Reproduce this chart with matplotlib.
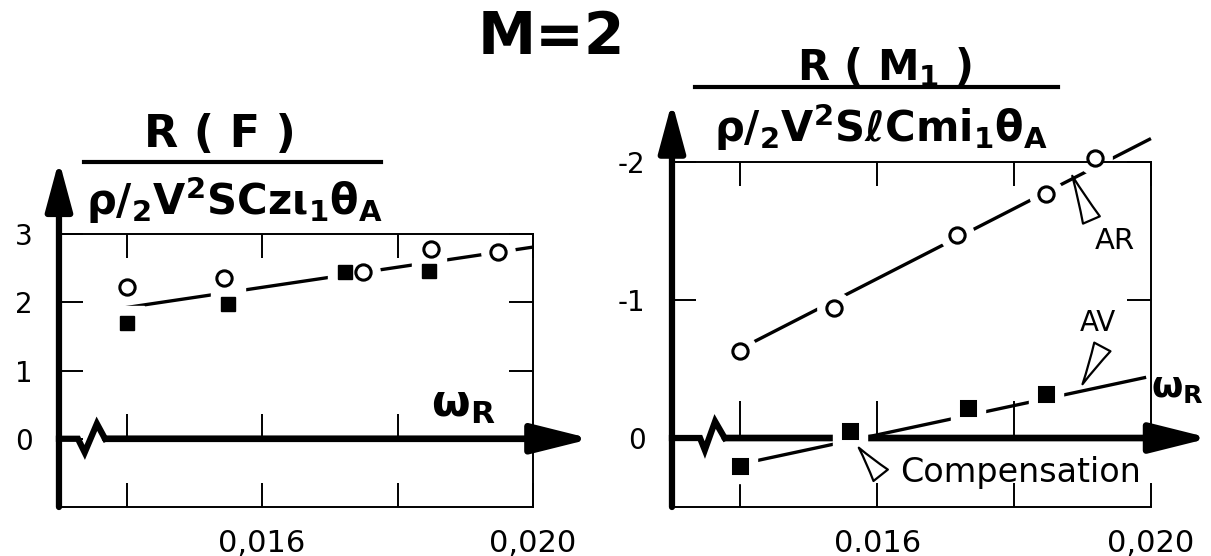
import numpy as np
import matplotlib.pyplot as plt

plt.rcParams['font.family'] = ['DejaVu Sans']
plt.rcParams['mathtext.default'] = 'regular'

# x axis: omega_R
x_ticks = [0.014, 0.016, 0.018, 0.020]

# left panel R(F): open circles (AR) and filled squares (AV)
f_circ_x = [0.0140, 0.01544, 0.01749, 0.01850, 0.01949]
f_circ_y = [2.22, 2.35, 2.44, 2.78, 2.74]
f_sq_x = [0.0140, 0.01550, 0.01723, 0.01847]
f_sq_y = [1.69, 1.97, 2.44, 2.46]
f_fit_x = [0.01384, 0.02001]
f_fit_y = [1.90, 2.81]
f_yticks = [0, 1, 2, 3]
f_xlabels = ['', '0,016', '', '0,020']

# right panel R(M1)
m_circ_x = [0.0140, 0.01537, 0.01717, 0.01847, 0.01918]
m_circ_y = [-0.63, -0.94, -1.47, -1.77, -2.03]
m_circ_fit_x = [0.01409, 0.0200]
m_circ_fit_y = [-0.67, -2.17]
m_sq_x = [0.0140, 0.0156, 0.01733, 0.01847]
m_sq_y = [0.20, -0.05, -0.22, -0.32]
m_sq_fit_x = [0.01418, 0.01993]
m_sq_fit_y = [0.17, -0.44]
m_yticks = [0, -1, -2]
m_ylabels = ['0', '-1', '-2']
m_xlabels = ['', '0.016', '', '0,020']

fig = plt.figure(figsize=(12.11, 5.56), dpi=100)
axL = fig.add_axes([0.0487, 0.0881, 0.3914, 0.491])
axR = fig.add_axes([0.5549, 0.0881, 0.3955, 0.6205])


def setup(ax, ylim, yticks, ylabels, xlabels, ytop, zig_x, zig_y, zt):
    ax.set_xlim(0.013, 0.020)
    ax.set_ylim(*ylim)
    ax.spines['left'].set_visible(False)
    for s in ['top', 'right', 'bottom']:
        ax.spines[s].set_linewidth(1.4)
    ax.set_xticks(x_ticks)
    ax.set_xticklabels(xlabels)
    ax.set_yticks(yticks)
    ax.set_yticklabels(ylabels)
    ax.tick_params(direction='in', length=17, width=1.4, top=True, right=True)
    ax.tick_params(axis='x', labelsize=22, pad=16)
    ax.tick_params(axis='y', labelsize=20, pad=19)
    # thick y axis with arrow
    ax.annotate('', xy=(0, ytop), xytext=(0, 0), xycoords='axes fraction',
                arrowprops=dict(arrowstyle='-|>,head_length=1.0,head_width=0.27',
                                lw=4.5, color='k', mutation_scale=30,
                                shrinkA=0, shrinkB=0), annotation_clip=False)
    # zero axis with break mark and arrow
    ax.plot(zig_x, zig_y, color='k', lw=4.5, solid_joinstyle='miter',
            clip_on=False, zorder=2.1)
    ax.annotate('', xy=(1.123, 0), xytext=(zig_x[-1], 0),
                xycoords=('axes fraction', 'data'), textcoords='data',
                arrowprops=dict(arrowstyle='-|>,head_length=1.2,head_width=0.3',
                                lw=4.8, color='k', mutation_scale=30,
                                shrinkA=0, shrinkB=0),
                annotation_clip=False, zorder=2.1)
    ax.vlines(x_ticks[:-1], 0, zt, color='k', lw=1.4, zorder=2.1)


setup(axL, (-1, 3), f_yticks, [str(v) for v in f_yticks], f_xlabels, 1.27,
      [0.013, 0.01328, 0.01338, 0.01356, 0.01368], [0, 0, -0.2, 0.22, 0], 0.37)
setup(axR, (0.5, -2), m_yticks, m_ylabels, m_xlabels, 1.174,
      [0.013, 0.01341, 0.01348, 0.01363, 0.01377], [0, 0, 0.087, -0.12, 0], -0.27)
axR.spines['right'].set_bounds(-2, 0)


def series(ax, fx, fy, px, py, marker, face):
    ax.plot(fx, fy, color='k', lw=2.4, zorder=2, solid_capstyle='butt', clip_on=False)
    ax.plot(px, py, ls='none', marker=marker, ms=24, color='white', zorder=2.2,
            clip_on=False)
    ax.plot(px, py, ls='none', marker=marker, ms=11 if marker == 'o' else 10,
            mfc=face, mec='k', mew=2.2, zorder=4, clip_on=False)


series(axL, f_fit_x, f_fit_y, f_circ_x, f_circ_y, 'o', 'white')
axL.plot(f_sq_x, f_sq_y, ls='none', marker='s', ms=24, color='white', zorder=2.2)
axL.plot(f_sq_x, f_sq_y, ls='none', marker='s', ms=10, mfc='k', mec='k', zorder=4)

series(axR, m_circ_fit_x, m_circ_fit_y, m_circ_x, m_circ_y, 'o', 'white')
series(axR, m_sq_fit_x, m_sq_fit_y, m_sq_x, m_sq_y, 's', 'k')

# axis titles (fractions)
bold = dict(fontweight='bold', ha='center', va='center', clip_on=False)
axL.text(0.01538, 4.46, 'R ( F )', fontsize=32, **bold)
axL.plot([0.01337, 0.01775], [4.06, 4.06], color='k', lw=3, clip_on=False)
axL.text(0.0156, 3.50, r'$\rho/_{2}V^{2}SCz\iota_{1}\theta_{A}$', fontsize=30, **bold)
axL.text(0.01850, 0.50, r'$\omega_{R}$', fontsize=32, fontweight='bold',
         ha='left', va='center')

axR.text(0.0161, -2.69, r'R ( M$_{1}$ )', fontsize=30, **bold)
axR.plot([0.01334, 0.01864], [-2.545, -2.545], color='k', lw=3, clip_on=False)
axR.text(0.01605, -2.25, r'$\rho/_{2}V^{2}S\ell Cmi_{1}\theta_{A}$', fontsize=30, **bold)
axR.text(0.02000, -0.36, r'$\omega_{R}$', fontsize=26, fontweight='bold',
         ha='left', va='center', clip_on=False)

# hollow pointer arrows with labels
wedge = dict(arrowstyle='wedge,tail_width=0.6,shrink_factor=0.45', fc='white',
             ec='k', lw=1.6, mutation_scale=22, shrinkA=0, shrinkB=0)
axR.annotate('', xy=(0.01885, -1.90), xytext=(0.01913, -1.58), arrowprops=wedge)
axR.text(0.01947, -1.43, 'AR', fontsize=21, ha='center', va='center')
axR.annotate('', xy=(0.0190, -0.39), xytext=(0.01929, -0.66), arrowprops=wedge)
axR.text(0.01923, -0.83, 'AV', fontsize=20, ha='center', va='center')
axR.annotate('', xy=(0.01573, 0.07), xytext=(0.01605, 0.27), arrowprops=wedge)
axR.text(0.01633, 0.25, 'Compensation', fontsize=24, ha='left', va='center')

fig.text(0.455, 0.932, 'M=2', fontsize=42, fontweight='bold', ha='center', va='center')

fig.savefig('out.png', dpi=100)
